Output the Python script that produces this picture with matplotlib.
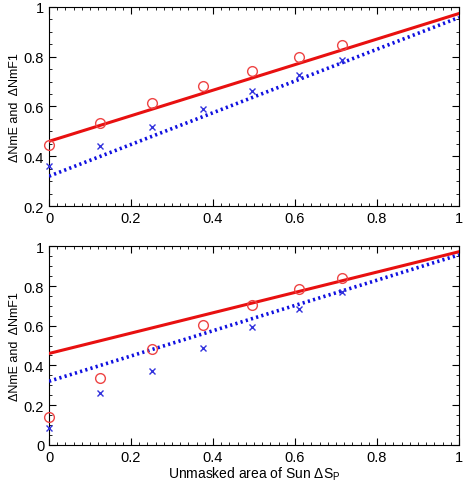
import numpy as np
import matplotlib.pyplot as plt
from matplotlib.ticker import MultipleLocator

plt.rcParams['font.family'] = ['Liberation Sans', 'DejaVu Sans']

# masked-area fractions
area = [0.0, 0.125, 0.25, 0.375, 0.495, 0.61, 0.715]

# top panel
nme_top = [0.445, 0.532, 0.613, 0.682, 0.744, 0.798, 0.846]
nmf1_top = [0.362, 0.442, 0.519, 0.591, 0.661, 0.727, 0.787]

# bottom panel
nme_bot = [0.141, 0.338, 0.484, 0.603, 0.706, 0.785, 0.842]
nmf1_bot = [0.083, 0.261, 0.373, 0.486, 0.593, 0.685, 0.771]

# model lines (intercept, slope)
fit_nme = (0.46, 0.513)
fit_nmf1 = (0.32, 0.637)

fig = plt.figure(figsize=(4.67, 4.85), dpi=100)
ax1 = fig.add_axes([0.105, 0.573, 0.878, 0.411])
ax2 = fig.add_axes([0.105, 0.081, 0.878, 0.409])

xx = np.array([0.0, 1.0])
for ax, e, f, ylo in [(ax1, nme_top, nmf1_top, 0.2), (ax2, nme_bot, nmf1_bot, 0.0)]:
    ax.plot(xx, fit_nme[0] + fit_nme[1] * xx, color='#e81010', lw=2.2, zorder=3)
    ax.plot(xx, fit_nmf1[0] + fit_nmf1[1] * xx, color='#1010e0', lw=2.6,
            ls=(0, (0.6, 0.9)), zorder=3)
    ax.plot(area, e, 'o', mfc='none', mec='#ee4444', ms=7, mew=1.0, zorder=4,
            clip_on=False)
    ax.plot(area, f, 'x', color='#3333dd', ms=4.5, mew=1.0, zorder=4, clip_on=False)
    ax.set_xlim(0, 1)
    ax.set_ylim(ylo, 1)
    ax.xaxis.set_major_locator(MultipleLocator(0.2))
    ax.xaxis.set_minor_locator(MultipleLocator(0.02))
    ax.yaxis.set_major_locator(MultipleLocator(0.2))
    ax.yaxis.set_minor_locator(MultipleLocator(0.05))
    ax.tick_params(which='both', direction='in', top=True, right=True, labelsize=10.5)
    ax.tick_params(which='major', length=5, width=0.8)
    ax.tick_params(which='minor', length=2.5, width=0.6)
    ax.set_xticks([0, 0.2, 0.4, 0.6, 0.8, 1])
    ax.set_xticklabels(['0', '0.2', '0.4', '0.6', '0.8', '1'])
    ax.set_ylabel('ΔNmE and  ΔNmF1', fontsize=9, labelpad=2)

ax1.set_yticks([0.2, 0.4, 0.6, 0.8, 1])
ax1.set_yticklabels(['0.2', '0.4', '0.6', '0.8', '1'])
ax2.set_yticks([0, 0.2, 0.4, 0.6, 0.8, 1])
ax2.set_yticklabels(['0', '0.2', '0.4', '0.6', '0.8', '1'])
ax2.set_xlabel('Unmasked area of Sun ΔS$_\\mathregular{P}$', fontsize=10, labelpad=1)

fig.savefig('out.png', dpi=100)
